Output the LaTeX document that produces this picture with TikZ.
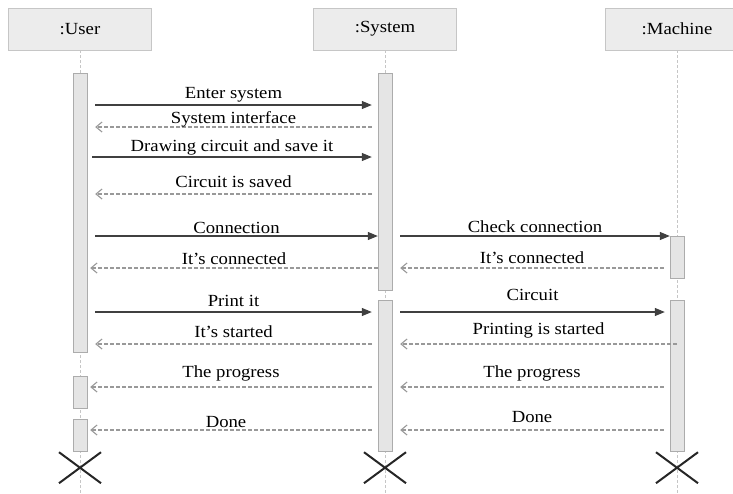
\documentclass[tikz,border=0pt]{standalone}
\usepackage{fontspec}
\setmainfont{Liberation Serif}[FakeStretch=1.1]
\usetikzlibrary{arrows.meta}

\tikzset{
  actor/.style={draw=gray!45, fill=gray!15, minimum width=143pt, minimum height=42pt,
    inner sep=0pt, font=\fontsize{17}{18}\selectfont},
  bar/.style={draw=gray!65, fill=gray!20, minimum width=14pt, inner sep=0pt},
  life/.style={gray!45, dash pattern=on 3pt off 2pt, line width=0.6pt},
  call/.style={-{Triangle[length=10pt,width=8pt]}, line width=1.1pt, black!75},
  reply/.style={-{Straight Barb[length=6pt,width=10pt]}, dash pattern=on 4pt off 2pt,
    gray!80, line width=1.1pt},
  msg/.style={font=\fontsize{17}{18}\selectfont, inner sep=1pt, text=black},
  kill/.style={line width=2pt, black!85},
}

\begin{document}
\begin{tikzpicture}[x=1pt, y=-1pt]
  \useasboundingbox (0,0) rectangle (733,493);

  % participants
  \node (user) [actor] at (80,29) {:User};
  \node (sys) [actor] at (385,29) {:System};
  \node (mach) [actor] at (677,29) {:Machine};

  \foreach \n in {user,sys,mach}
    \draw[life] (\n.south) -- ++(0,443);

  % activations
  \node (ua1) [bar, minimum height=279pt] at (80,212.5) {};
  \node (ua2) [bar, minimum height=32pt] at (80,392) {};
  \node (ua3) [bar, minimum height=32pt] at (80,435) {};
  \node (sa1) [bar, minimum height=217pt] at (385,181.5) {};
  \node (sa2) [bar, minimum height=151pt] at (385,375.5) {};
  \node (ma1) [bar, minimum height=42pt] at (677,257) {};
  \node (ma2) [bar, minimum height=151pt] at (677,375.5) {};

  % user <-> system
  \draw[call] ([xshift=8pt]ua1.east |- 0,105) -- ([xshift=-6pt]sa1.west |- 0,105)
    node[msg, midway, above=1pt] {Enter system};
  \draw[reply] ([xshift=-6pt]sa1.west |- 0,127) -- ([xshift=8pt]ua1.east |- 0,127)
    node[msg, midway, above=-2pt] {System interface};
  \draw[call] ([xshift=5pt]ua1.east |- 0,157) -- ([xshift=-6pt]sa1.west |- 0,157)
    node[msg, midway, above=0pt] {Drawing circuit and save it};
  \draw[reply] ([xshift=-6pt]sa1.west |- 0,194) -- ([xshift=8pt]ua1.east |- 0,194)
    node[msg, midway, above=5pt] {Circuit is saved};
  \draw[call] ([xshift=8pt]ua1.east |- 0,236) -- (sa1.west |- 0,236)
    node[msg, midway, above=1pt] {Connection};
  \draw[reply] (sa1.west |- 0,268) -- ([xshift=3pt]ua1.east |- 0,268)
    node[msg, midway, above=2pt] {It’s connected};
  \draw[call] ([xshift=8pt]ua1.east |- 0,312) -- ([xshift=-6pt]sa2.west |- 0,312)
    node[msg, midway, above=4pt] {Print it};
  \draw[reply] ([xshift=-6pt]sa2.west |- 0,344) -- ([xshift=8pt]ua1.east |- 0,344)
    node[msg, midway, above=5pt] {It’s started};
  \draw[reply] ([xshift=-6pt]sa2.west |- 0,387) -- ([xshift=3pt]ua2.east |- 0,387)
    node[msg, midway, above=4pt] {The progress};
  \draw[reply] ([xshift=-6pt]sa2.west |- 0,430) -- ([xshift=3pt]ua3.east |- 0,430)
    node[msg, midway, above=1pt, xshift=-5pt] {Done};

  % system <-> machine
  \draw[call] ([xshift=8pt]sa1.east |- 0,236) -- (ma1.west |- 0,236)
    node[msg, midway, above=2pt] {Check connection};
  \draw[reply] ([xshift=-6pt]ma1.west |- 0,268) -- ([xshift=8pt]sa1.east |- 0,268)
    node[msg, midway, above=3pt] {It’s connected};
  \draw[call] ([xshift=8pt]sa2.east |- 0,312) -- ([xshift=-5pt]ma2.west |- 0,312)
    node[msg, midway, above=10pt] {Circuit};
  \draw[reply] (ma2.center |- 0,344) -- ([xshift=8pt]sa2.east |- 0,344)
    node[msg, midway, above=4pt] {Printing is started};
  \draw[reply] ([xshift=-6pt]ma2.west |- 0,387) -- ([xshift=8pt]sa2.east |- 0,387)
    node[msg, midway, above=4pt] {The progress};
  \draw[reply] ([xshift=-6pt]ma2.west |- 0,430) -- ([xshift=8pt]sa2.east |- 0,430)
    node[msg, midway, above=6pt] {Done};

  % destruction
  \foreach \n in {user,sys,mach}
    \draw[kill] (\n.south) ++(-21,402) -- ++(42,31) ++(0,-31) -- ++(-42,31);
\end{tikzpicture}
\end{document}
